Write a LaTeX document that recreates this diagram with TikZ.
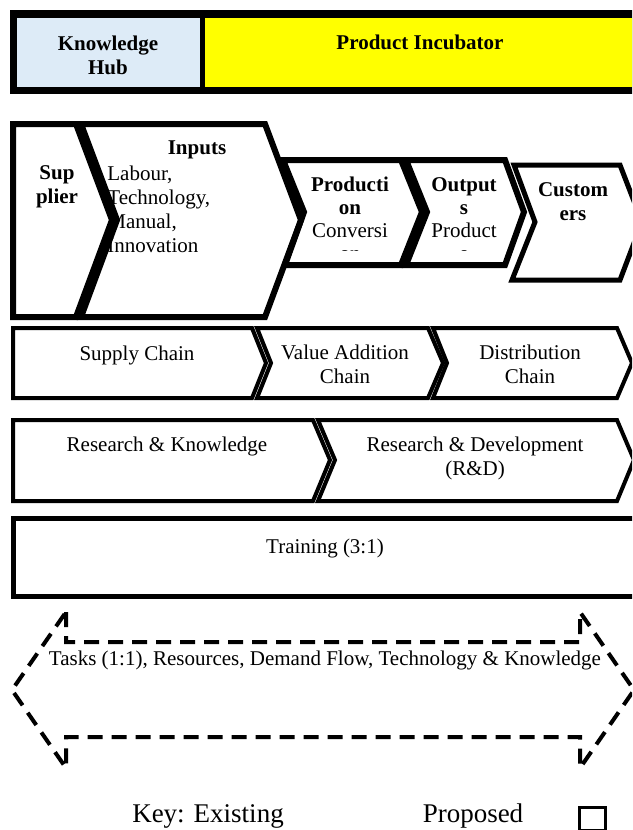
\documentclass[tikz,border=0pt]{standalone}
\usepackage{fontspec}
\setmainfont{Liberation Serif}
\definecolor{hubblue}{RGB}{221,235,247}
\definecolor{incubatoryellow}{RGB}{255,255,0}

\begin{document}
\begin{tikzpicture}[
    x=0.5pt,
    y=-0.5pt,
    stage/.style={
      draw=black,
      line width=3pt
    },
    chainlink/.style={
      draw=black,
      line width=2pt
    },
    flowarrow/.style={
      draw=black,
      line width=2pt,
      dash pattern=on 7.5pt off 4.5pt
    },
    boxtext/.style={
      font=\fontsize{10.5}{12}\selectfont,
      align=center,
      inner sep=0pt
    },
    boxtitle/.style={
      boxtext,
      font=\fontsize{10.5}{12}\selectfont\bfseries
    },
    keytext/.style={
      font=\fontsize{13.5}{16}\selectfont,
      inner sep=0pt
    }
]
\path[use as bounding box] (0,0) rectangle (632,830);
\clip (0,0) rectangle (632,830);

% Header bar.
\fill[black] (10,10) rectangle (645,94);
\fill[hubblue] (17,18) rectangle (200,87);
\fill[incubatoryellow] (205,18) rectangle (645,87);
\node[boxtitle] (hub) at (108,55) {Knowledge\\Hub};
\node[boxtitle] (incubator) at (420,42) {Product Incubator};

% Value chain stages, text first so the borders run over it.
\node[boxtitle] (supplier) at (57,187) {Sup\\plier};
\node[boxtitle] (inputs) at (197,150) {Inputs};
\node[boxtext,align=left,anchor=west] (inputlist) at (107,209)
  {Labour,\\Technology,\\Manual,\\Innovation};
\node[boxtitle] (customers) at (573,202) {Custom\\ers};
\begin{scope}
  \clip (270,150) rectangle (530,250);
  \node[boxtext,font=\fontsize{10.5}{11.5}\selectfont] (production) at (350,219)
    {\textbf{Producti}\\\textbf{on}\\Conversi\\on};
  \node[boxtext,font=\fontsize{10.5}{11.5}\selectfont] (outputs) at (464,219)
    {\textbf{Output}\\\textbf{s}\\Product\\s};
\end{scope}

\draw[stage] (13,124) -- (76,124) -- (112,220) -- (76,317) -- (13,317) -- cycle;
\draw[stage] (81,124) -- (265,124) -- (301,220) -- (265,317) -- (81,317)
  -- (117,220) -- cycle;
\draw[stage] (283,160) -- (401,160) -- (422,212) -- (401,265) -- (285,265)
  -- (304,212) -- cycle;
\draw[stage] (406,160) -- (505,160) -- (524,212) -- (505,265) -- (406,265)
  -- (427,212) -- cycle;
\draw[stage,line width=2.5pt] (514,165) -- (620,165) -- (642,222) -- (620,280)
  -- (512,280) -- (535,222) -- cycle;

% Supply, value addition and distribution chains.
\node[boxtext] (supply) at (137,355) {Supply Chain};
\node[boxtext] (valueadd) at (345,364) {Value Addition\\Chain};
\node[boxtext] (distribution) at (530,364) {Distribution\\Chain};
\draw[chainlink] (13,328) -- (252,328) -- (266,363) -- (252,398) -- (13,398) -- cycle;
\draw[chainlink] (257,328) -- (428,328) -- (443,363) -- (428,398) -- (257,398)
  -- (271,363) -- cycle;
\draw[chainlink] (433,328) -- (617,328) -- (632,363) -- (617,398) -- (433,398)
  -- (447,363) -- cycle;

% Research row.
\node[boxtext] (research) at (167,446) {Research \& Knowledge};
\node[boxtext] (rnd) at (475,458) {Research \& Development\\(R\&D)};
\draw[chainlink] (13,420) -- (313,420) -- (330,460) -- (313,501) -- (13,501) -- cycle;
\draw[chainlink] (318,420) -- (617,420) -- (634,460) -- (617,501) -- (318,501)
  -- (335,460) -- cycle;

% Training.
\draw[chainlink,line width=2.5pt] (13,518) rectangle (650,596);
\node[boxtext] (training) at (325,548) {Training (3:1)};

% Proposed two-way flow.
\draw[flowarrow] (66,612) -- (66,642) -- (580,642) -- (580,612) -- (634,690)
  -- (580,768) -- (580,737) -- (66,737) -- (66,768) -- (12,690) -- cycle;
\node[boxtext] (tasks) at (325,660)
  {Tasks (1:1), Resources, Demand Flow, Technology \& Knowledge};

% Key.
\node[keytext] (keyexist) at (208,816) {Key: Existing};
\node[keytext] (keyprop) at (473,816) {Proposed};
\draw[line width=1.5pt] (579,807) rectangle (605,830);

\end{tikzpicture}
\end{document}
